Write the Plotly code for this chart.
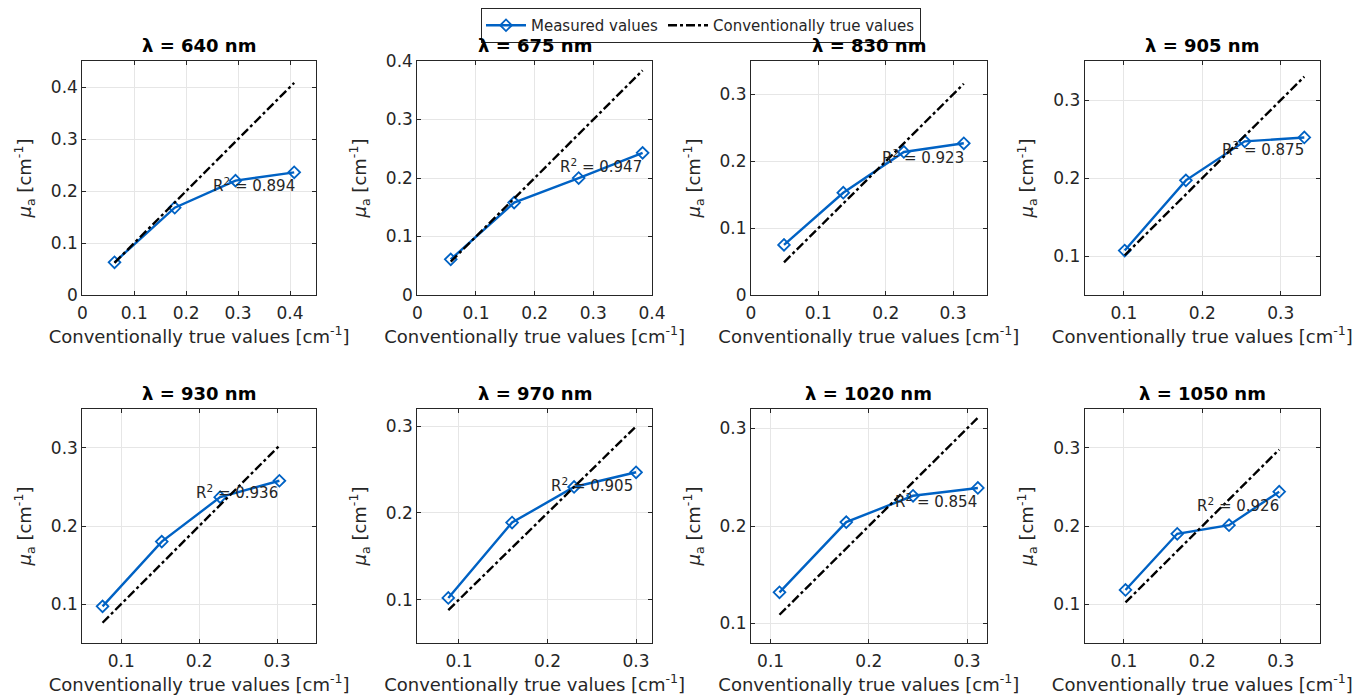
import plotly.graph_objects as go

wavelengths = [640, 675, 830, 905, 930, 970, 1020, 1050]

true_640 = [0.062, 0.178, 0.295, 0.408]
meas_640 = [0.063, 0.168, 0.220, 0.236]
true_675 = [0.057, 0.165, 0.275, 0.384]
meas_675 = [0.061, 0.158, 0.200, 0.243]
true_830 = [0.049, 0.137, 0.227, 0.316]
meas_830 = [0.075, 0.153, 0.214, 0.227]
true_905 = [0.101, 0.179, 0.254, 0.330]
meas_905 = [0.107, 0.197, 0.247, 0.252]
true_930 = [0.076, 0.152, 0.227, 0.303]
meas_930 = [0.097, 0.180, 0.237, 0.258]
true_970 = [0.088, 0.160, 0.230, 0.300]
meas_970 = [0.102, 0.189, 0.230, 0.247]
true_1020 = [0.109, 0.177, 0.245, 0.311]
meas_1020 = [0.132, 0.204, 0.231, 0.239]
true_1050 = [0.102, 0.168, 0.234, 0.298]
meas_1050 = [0.118, 0.190, 0.201, 0.244]

r2_values = [0.894, 0.947, 0.923, 0.875, 0.936, 0.905, 0.854, 0.926]

true_sets = [true_640, true_675, true_830, true_905, true_930, true_970, true_1020, true_1050]
meas_sets = [meas_640, meas_675, meas_830, meas_905, meas_930, meas_970, meas_1020, meas_1050]

# layout / style (not data)
r2_pos = [(0.247, 0.212), (0.239, 0.220), (0.192, 0.207), (0.222, 0.237),
          (0.194, 0.243), (0.202, 0.232), (0.225, 0.226), (0.190, 0.227)]
x_ranges = [[0, 0.45], [0, 0.4], [0, 0.35], [0.05, 0.35],
            [0.05, 0.35], [0.053, 0.318], [0.08, 0.32], [0.05, 0.35]]
y_ranges = [[0, 0.45], [0, 0.4], [0, 0.35], [0.05, 0.35],
            [0.05, 0.35], [0.05, 0.32], [0.08, 0.32], [0.05, 0.35]]

PAGE_OFF = 8  # default body margin of the html page
W, H = 1367 - PAGE_OFF, 697 - PAGE_OFF
col_px = [(82.3, 316), (417.3, 652), (751, 986.7), (1084.7, 1320)]
row_px = [(57.3, 292.7), (407.3, 642.7)]

BLUE = "#0062C4"
TXT = "#262626"
FONT = "DejaVu Sans"


def px_x(v):
    return (v - PAGE_OFF) / W


def px_y(v):
    return 1 - (v - PAGE_OFF) / H


fig = go.Figure()
layout = {}
annotations = []

for i, wl in enumerate(wavelengths):
    r, c = divmod(i, 4)
    n = i + 1
    xa = "x" if n == 1 else f"x{n}"
    ya = "y" if n == 1 else f"y{n}"
    xk = "xaxis" if n == 1 else f"xaxis{n}"
    yk = "yaxis" if n == 1 else f"yaxis{n}"
    x0, x1 = col_px[c]
    t0, t1 = row_px[r]
    common = dict(
        showgrid=True, gridcolor="#e6e6e6", gridwidth=1,
        showline=True, linecolor=TXT, linewidth=1, mirror="ticks",
        ticks="inside", ticklen=4, tickcolor=TXT,
        tick0=0, dtick=0.1, zeroline=False, automargin=False,
        tickfont=dict(family=FONT, size=17, color=TXT),
        title_font=dict(family=FONT, size=18, color=TXT),
    )
    layout[xk] = dict(common, domain=[px_x(x0), px_x(x1)], anchor=ya,
                      range=x_ranges[i], ticklabelstandoff=3,
                      title=dict(text="Conventionally true values [cm<sup>-1</sup>]", standoff=7))
    layout[yk] = dict(common, domain=[px_y(t1), px_y(t0)], anchor=xa,
                      range=y_ranges[i],
                      title=dict(text="<i>μ</i><sub>a</sub> [cm<sup>-1</sup>]", standoff=14))

    tv = true_sets[i]
    mv = meas_sets[i]
    fig.add_trace(go.Scatter(
        x=tv, y=mv, mode="lines+markers", name="Measured values",
        line=dict(color=BLUE, width=2.4),
        marker=dict(symbol="diamond-open", size=9, color=BLUE, line=dict(width=1.8, color=BLUE)),
        xaxis=xa, yaxis=ya, showlegend=(i == 0), legendgroup="m"))
    fig.add_trace(go.Scatter(
        x=tv, y=tv, mode="lines", name="Conventionally true values",
        line=dict(color="black", width=2.4, dash="dashdot"),
        xaxis=xa, yaxis=ya, showlegend=(i == 0), legendgroup="t"))

    annotations.append(dict(
        x=r2_pos[i][0], y=r2_pos[i][1], xref=xa, yref=ya,
        text=f"R<sup>2</sup> = {r2_values[i]:.3f}", showarrow=False,
        xanchor="left", yanchor="middle",
        font=dict(family=FONT, size=15, color=TXT)))
    annotations.append(dict(
        x=px_x((x0 + x1) / 2), y=px_y(t0 - 3), xref="paper", yref="paper",
        text=f"<b>λ = {wl} nm</b>", showarrow=False,
        xanchor="center", yanchor="bottom",
        font=dict(family=FONT, size=18, color="black")))

fig.update_layout(
    **layout,
    annotations=annotations,
    width=W, height=H,
    margin=dict(l=0, r=0, t=0, b=0),
    paper_bgcolor="white", plot_bgcolor="white",
    font=dict(family=FONT, color=TXT),
    legend=dict(orientation="h", x=px_x(701), y=px_y(21.5), xanchor="center", yanchor="middle",
                bordercolor=TXT, borderwidth=1, bgcolor="white",
                font=dict(family=FONT, size=15, color=TXT),
                itemwidth=40, tracegroupgap=0),
)

fig.write_html("out.html")
